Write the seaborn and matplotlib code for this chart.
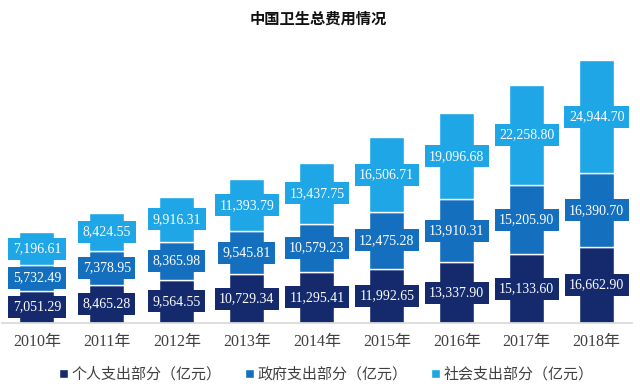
import matplotlib
matplotlib.use("Agg")
import matplotlib.pyplot as plt
import seaborn as sns
import pandas as pd
import numpy as np

years = ["2010年", "2011年", "2012年", "2013年", "2014年", "2015年", "2016年", "2017年", "2018年"]
personal = [7051.29, 8465.28, 9564.55, 10729.34, 11295.41, 11992.65, 13337.90, 15133.60, 16662.90]
government = [5732.49, 7378.95, 8365.98, 9545.81, 10579.23, 12475.28, 13910.31, 15205.90, 16390.70]
social = [7196.61, 8424.55, 9916.31, 11393.79, 13437.75, 16506.71, 19096.68, 22258.80, 24944.70]
series_names = ["个人支出部分（亿元）", "政府支出部分（亿元）", "社会支出部分（亿元）"]
title = "中国卫生总费用情况"

colors = ["#142a6c", "#1470be", "#1ea6e6"]

sns.set_theme(style="white")
plt.rcParams['font.family'] = ['Liberation Serif', 'Noto Sans CJK SC']

fig = plt.figure(figsize=(6.4, 3.9), dpi=100)
ax = fig.add_axes([0.003, 0.172, 0.984, 0.697])

series = [personal, government, social]
bottom = np.zeros(len(years))
for name, vals, col in zip(series_names, series, colors):
    df = pd.DataFrame({"year": years, "value": vals})
    sns.barplot(data=df, x="year", y="value", color=col, width=0.5,
                bottom=bottom, ax=ax, label=name, saturation=1)
    for i, v in enumerate(vals):
        ax.text(i, bottom[i] + v / 2, f"{v:,.2f}", ha="center", va="center",
                color="white", fontsize=10, family=['Liberation Serif'],
                bbox=dict(boxstyle="square,pad=0.32", fc=col, ec="none"))
    bottom = bottom + np.array(vals)

ax.set_xlim(-0.5, 8.5)
ax.set_ylim(0, 60000)
ax.set_xlabel("")
ax.set_ylabel("")
ax.set_yticks([])
for s in ["top", "left", "right"]:
    ax.spines[s].set_visible(False)
ax.spines["bottom"].set_color("#d9d9d9")
ax.tick_params(axis="x", length=0, pad=8, labelsize=11.5, labelcolor="#404040")

handles, labels = ax.get_legend_handles_labels()
if ax.get_legend() is not None:
    ax.get_legend().remove()
leg = fig.legend(handles, labels, loc="center", bbox_to_anchor=(0.51, 0.04), ncol=3,
                 frameon=False, fontsize=10.8, handlelength=0.6, handleheight=0.6,
                 handletextpad=0.2, columnspacing=1.6)
for t in leg.get_texts():
    t.set_color("#404040")

fig.text(0.497, 0.953, title, ha="center", va="center", fontsize=11,
         fontweight="bold", family=['Noto Sans CJK SC'], color="#111111")

fig.savefig("out.png", dpi=100)
